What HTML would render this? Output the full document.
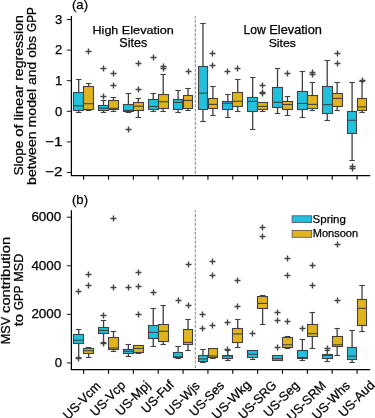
<!DOCTYPE html>
<html><head><meta charset="utf-8"><style>
html,body{margin:0;padding:0;background:#fff;width:375px;height:418px;overflow:hidden}
svg{display:block;will-change:transform}
text{font-family:"Liberation Sans",sans-serif;fill:#000;stroke:#000;stroke-width:0.25px}
</style></head><body>
<svg width="375" height="418" viewBox="0 0 375 418">
<rect width="375" height="418" fill="#fff"/>
<g stroke="#777" stroke-width="0.9" stroke-dasharray="3.1,1.34" stroke-dashoffset="0.74">
<line x1="195.3" y1="16.1" x2="195.3" y2="175.5"/>
<line x1="195.3" y1="210.3" x2="195.3" y2="369.6"/>
</g>
<g stroke="#424242" stroke-width="1.1" fill="none">
<path d="M78.68 79.5V92.5" stroke-width="1.3" stroke="#3f3f3f"/><path d="M75.93 79.5H81.43"/><path d="M78.68 110.5V112.5" stroke-width="1.3" stroke="#3f3f3f"/><path d="M75.93 112.5H81.43"/><rect x="73.5" y="92.5" width="10" height="18" fill="#21c0dd"/><path d="M73.5 105.8H83.5"/>
<path d="M88.62 83.5V86.5" stroke-width="1.3" stroke="#3f3f3f"/><path d="M85.87 83.5H91.37"/><path d="M88.62 109.5V110.5" stroke-width="1.3" stroke="#3f3f3f"/><path d="M85.87 110.5H91.37"/><rect x="83.5" y="86.5" width="10" height="23" fill="#e0b31f"/><path d="M83.5 103.7H93.5"/><path d="M85.5 51.5h6M88.5 48.5v6" stroke="#444444" stroke-width="1.4"/>
<path d="M103.54 100.5V105.5" stroke-width="1.3" stroke="#3f3f3f"/><path d="M100.79 100.5H106.29"/><path d="M103.54 110.5V112.5" stroke-width="1.3" stroke="#3f3f3f"/><path d="M100.79 112.5H106.29"/><rect x="98.5" y="105.5" width="10" height="5" fill="#21c0dd"/><path d="M98.5 108.2H108.5"/><path d="M100.5 96.5h6M103.5 93.5v6" stroke="#444444" stroke-width="1.4"/><path d="M100.5 68.5h6M103.5 65.5v6" stroke="#444444" stroke-width="1.4"/>
<path d="M113.48 97.5V100.5" stroke-width="1.3" stroke="#3f3f3f"/><path d="M110.73 97.5H116.23"/><path d="M113.48 109.5V111.5" stroke-width="1.3" stroke="#3f3f3f"/><path d="M110.73 111.5H116.23"/><rect x="108.5" y="100.5" width="10" height="9" fill="#e0b31f"/><path d="M108.5 108.3H118.5"/><path d="M110.5 73.5h6M113.5 70.5v6" stroke="#444444" stroke-width="1.4"/><path d="M110.5 85.5h6M113.5 82.5v6" stroke="#444444" stroke-width="1.4"/>
<path d="M128.39 93.5V104.5" stroke-width="1.3" stroke="#3f3f3f"/><path d="M125.64 93.5H131.14"/><path d="M128.39 111.5V112.5" stroke-width="1.3" stroke="#3f3f3f"/><path d="M125.64 112.5H131.14"/><rect x="123.5" y="104.5" width="10" height="7" fill="#21c0dd"/><path d="M123.5 110.4H133.5"/><path d="M125.5 129.5h6M128.5 126.5v6" stroke="#444444" stroke-width="1.4"/>
<path d="M138.33 98.5V102.5" stroke-width="1.3" stroke="#3f3f3f"/><path d="M135.58 98.5H141.08"/><path d="M138.33 110.5V117.5" stroke-width="1.3" stroke="#3f3f3f"/><path d="M135.58 117.5H141.08"/><rect x="133.5" y="102.5" width="10" height="8" fill="#e0b31f"/><path d="M133.5 106.2H143.5"/><path d="M135.5 63.5h6M138.5 60.5v6" stroke="#444444" stroke-width="1.4"/><path d="M135.5 89.5h6M138.5 86.5v6" stroke="#444444" stroke-width="1.4"/>
<path d="M153.25 93.5V99.5" stroke-width="1.3" stroke="#3f3f3f"/><path d="M150.5 93.5H156"/><path d="M153.25 109.5V111.5" stroke-width="1.3" stroke="#3f3f3f"/><path d="M150.5 111.5H156"/><rect x="148.5" y="99.5" width="10" height="10" fill="#21c0dd"/><path d="M148.5 106.5H158.5"/><path d="M150.5 57.5h6M153.5 54.5v6" stroke="#444444" stroke-width="1.4"/>
<path d="M163.19 74.5V94.5" stroke-width="1.3" stroke="#3f3f3f"/><path d="M160.44 74.5H165.94"/><path d="M163.19 108.5V111.5" stroke-width="1.3" stroke="#3f3f3f"/><path d="M160.44 111.5H165.94"/><rect x="158.5" y="94.5" width="10" height="14" fill="#e0b31f"/><path d="M158.5 101.7H168.5"/><path d="M160.5 66.5h6M163.5 63.5v6" stroke="#444444" stroke-width="1.4"/><path d="M160.5 68.5h6M163.5 65.5v6" stroke="#444444" stroke-width="1.4"/>
<path d="M178.1 90.5V99.5" stroke-width="1.3" stroke="#3f3f3f"/><path d="M175.35 90.5H180.85"/><path d="M178.1 109.5V112.5" stroke-width="1.3" stroke="#3f3f3f"/><path d="M175.35 112.5H180.85"/><rect x="173.5" y="99.5" width="9" height="10" fill="#21c0dd"/><path d="M173.5 102.4H182.5"/>
<path d="M188.04 88.5V95.5" stroke-width="1.3" stroke="#3f3f3f"/><path d="M185.29 88.5H190.79"/><path d="M188.04 108.5V110.5" stroke-width="1.3" stroke="#3f3f3f"/><path d="M185.29 110.5H190.79"/><rect x="183.5" y="95.5" width="9" height="13" fill="#e0b31f"/><path d="M183.5 100.4H192.5"/><path d="M185.5 71.5h6M188.5 68.5v6" stroke="#444444" stroke-width="1.4"/>
<path d="M202.96 23.5V66.5" stroke-width="1.3" stroke="#3f3f3f"/><path d="M200.21 23.5H205.71"/><path d="M202.96 109.5V121.5" stroke-width="1.3" stroke="#3f3f3f"/><path d="M200.21 121.5H205.71"/><rect x="198.5" y="66.5" width="9" height="43" fill="#21c0dd"/><path d="M198.5 93.2H207.5"/>
<path d="M212.9 86.5V98.5" stroke-width="1.3" stroke="#3f3f3f"/><path d="M210.15 86.5H215.65"/><path d="M212.9 108.5V115.5" stroke-width="1.3" stroke="#3f3f3f"/><path d="M210.15 115.5H215.65"/><rect x="208.5" y="98.5" width="9" height="10" fill="#e0b31f"/><path d="M208.5 104.4H217.5"/><path d="M209.5 53.5h6M212.5 50.5v6" stroke="#444444" stroke-width="1.4"/><path d="M209.5 65.5h6M212.5 62.5v6" stroke="#444444" stroke-width="1.4"/>
<path d="M227.81 94.5V101.5" stroke-width="1.3" stroke="#3f3f3f"/><path d="M225.06 94.5H230.56"/><path d="M227.81 109.5V117.5" stroke-width="1.3" stroke="#3f3f3f"/><path d="M225.06 117.5H230.56"/><rect x="222.5" y="101.5" width="10" height="8" fill="#21c0dd"/><path d="M222.5 103.2H232.5"/><path d="M224.5 71.5h6M227.5 68.5v6" stroke="#444444" stroke-width="1.4"/>
<path d="M237.75 79.5V92.5" stroke-width="1.3" stroke="#3f3f3f"/><path d="M235 79.5H240.5"/><path d="M237.75 106.5V111.5" stroke-width="1.3" stroke="#3f3f3f"/><path d="M235 111.5H240.5"/><rect x="232.5" y="92.5" width="10" height="14" fill="#e0b31f"/><path d="M232.5 101.3H242.5"/><path d="M234.5 68.5h6M237.5 65.5v6" stroke="#444444" stroke-width="1.4"/>
<path d="M252.66 77.5V97.5" stroke-width="1.3" stroke="#3f3f3f"/><path d="M249.91 77.5H255.41"/><path d="M252.66 111.5V129.5" stroke-width="1.3" stroke="#3f3f3f"/><path d="M249.91 129.5H255.41"/><rect x="247.5" y="97.5" width="10" height="14" fill="#21c0dd"/><path d="M247.5 101.3H257.5"/>
<path d="M262.61 109.5V111.5" stroke-width="1.3" stroke="#3f3f3f"/><path d="M259.86 111.5H265.36"/><rect x="257.5" y="102.5" width="10" height="7" fill="#e0b31f"/><path d="M257.5 106.4H267.5"/><path d="M259.5 85.5h6M262.5 82.5v6" stroke="#444444" stroke-width="1.4"/><path d="M259.5 92.5h6M262.5 89.5v6" stroke="#444444" stroke-width="1.4"/><path d="M259.5 93.5h6M262.5 90.5v6" stroke="#444444" stroke-width="1.4"/>
<path d="M277.52 68.5V87.5" stroke-width="1.3" stroke="#3f3f3f"/><path d="M274.77 68.5H280.27"/><path d="M277.52 107.5V113.5" stroke-width="1.3" stroke="#3f3f3f"/><path d="M274.77 113.5H280.27"/><rect x="272.5" y="87.5" width="10" height="20" fill="#21c0dd"/><path d="M272.5 102.3H282.5"/>
<path d="M287.46 96.5V101.5" stroke-width="1.3" stroke="#3f3f3f"/><path d="M284.71 96.5H290.21"/><path d="M287.46 109.5V115.5" stroke-width="1.3" stroke="#3f3f3f"/><path d="M284.71 115.5H290.21"/><rect x="282.5" y="101.5" width="10" height="8" fill="#e0b31f"/><path d="M282.5 104.5H292.5"/><path d="M284.5 73.5h6M287.5 70.5v6" stroke="#444444" stroke-width="1.4"/>
<path d="M302.38 71.5V91.5" stroke-width="1.3" stroke="#3f3f3f"/><path d="M299.62 71.5H305.12"/><path d="M302.38 109.5V117.5" stroke-width="1.3" stroke="#3f3f3f"/><path d="M299.62 117.5H305.12"/><rect x="297.5" y="91.5" width="10" height="18" fill="#21c0dd"/><path d="M297.5 103.5H307.5"/>
<path d="M312.32 82.5V95.5" stroke-width="1.3" stroke="#3f3f3f"/><path d="M309.57 82.5H315.07"/><path d="M312.32 108.5V110.5" stroke-width="1.3" stroke="#3f3f3f"/><path d="M309.57 110.5H315.07"/><rect x="307.5" y="95.5" width="10" height="13" fill="#e0b31f"/><path d="M307.5 104.4H317.5"/><path d="M309.5 72.5h6M312.5 69.5v6" stroke="#444444" stroke-width="1.4"/><path d="M309.5 74.5h6M312.5 71.5v6" stroke="#444444" stroke-width="1.4"/>
<path d="M327.23 60.5V86.5" stroke-width="1.3" stroke="#3f3f3f"/><path d="M324.48 60.5H329.98"/><path d="M327.23 113.5V120.5" stroke-width="1.3" stroke="#3f3f3f"/><path d="M324.48 120.5H329.98"/><rect x="322.5" y="86.5" width="10" height="27" fill="#21c0dd"/><path d="M322.5 104.7H332.5"/>
<path d="M337.17 82.5V93.5" stroke-width="1.3" stroke="#3f3f3f"/><path d="M334.42 82.5H339.92"/><path d="M337.17 106.5V110.5" stroke-width="1.3" stroke="#3f3f3f"/><path d="M334.42 110.5H339.92"/><rect x="332.5" y="93.5" width="10" height="13" fill="#e0b31f"/><path d="M332.5 98.4H342.5"/><path d="M334.5 53.5h6M337.5 50.5v6" stroke="#444444" stroke-width="1.4"/><path d="M334.5 63.5h6M337.5 60.5v6" stroke="#444444" stroke-width="1.4"/>
<path d="M352.09 82.5V111.5" stroke-width="1.3" stroke="#3f3f3f"/><path d="M349.34 82.5H354.84"/><path d="M352.09 133.5V160.5" stroke-width="1.3" stroke="#3f3f3f"/><path d="M349.34 160.5H354.84"/><rect x="347.5" y="111.5" width="9" height="22" fill="#21c0dd"/><path d="M347.5 120.3H356.5"/><path d="M349.5 166.5h6M352.5 163.5v6" stroke="#444444" stroke-width="1.4"/><path d="M349.5 168.5h6M352.5 165.5v6" stroke="#444444" stroke-width="1.4"/>
<path d="M362.03 81.5V98.5" stroke-width="1.3" stroke="#3f3f3f"/><path d="M359.28 81.5H364.78"/><path d="M362.03 110.5V112.5" stroke-width="1.3" stroke="#3f3f3f"/><path d="M359.28 112.5H364.78"/><rect x="357.5" y="98.5" width="9" height="12" fill="#e0b31f"/><path d="M357.5 106.9H366.5"/><path d="M359.5 80.5h6M362.5 77.5v6" stroke="#444444" stroke-width="1.4"/>
<path d="M78.68 329.5V334.5" stroke-width="1.3" stroke="#3f3f3f"/><path d="M75.93 329.5H81.43"/><path d="M78.68 343.5V357.5" stroke-width="1.3" stroke="#3f3f3f"/><path d="M75.93 357.5H81.43"/><rect x="73.5" y="334.5" width="10" height="9" fill="#21c0dd"/><path d="M73.5 340.2H83.5"/><path d="M75.5 358.5h6M78.5 355.5v6" stroke="#444444" stroke-width="1.4"/><path d="M75.5 291.5h6M78.5 288.5v6" stroke="#444444" stroke-width="1.4"/>
<path d="M88.62 347.5V348.5" stroke-width="1.3" stroke="#3f3f3f"/><path d="M85.87 347.5H91.37"/><path d="M88.62 353.5V357.5" stroke-width="1.3" stroke="#3f3f3f"/><path d="M85.87 357.5H91.37"/><rect x="83.5" y="348.5" width="10" height="5" fill="#e0b31f"/><path d="M83.5 350.7H93.5"/><path d="M85.5 274.5h6M88.5 271.5v6" stroke="#444444" stroke-width="1.4"/><path d="M85.5 285.5h6M88.5 282.5v6" stroke="#444444" stroke-width="1.4"/>
<path d="M103.54 320.5V327.5" stroke-width="1.3" stroke="#3f3f3f"/><path d="M100.79 320.5H106.29"/><path d="M103.54 333.5V342.5" stroke-width="1.3" stroke="#3f3f3f"/><path d="M100.79 342.5H106.29"/><rect x="98.5" y="327.5" width="10" height="6" fill="#21c0dd"/><path d="M98.5 330.4H108.5"/><path d="M100.5 315.5h6M103.5 312.5v6" stroke="#444444" stroke-width="1.4"/><path d="M100.5 343.5h6M103.5 340.5v6" stroke="#444444" stroke-width="1.4"/>
<path d="M113.48 331.5V337.5" stroke-width="1.3" stroke="#3f3f3f"/><path d="M110.73 331.5H116.23"/><path d="M113.48 349.5V351.5" stroke-width="1.3" stroke="#3f3f3f"/><path d="M110.73 351.5H116.23"/><rect x="108.5" y="337.5" width="10" height="12" fill="#e0b31f"/><path d="M108.5 348H118.5"/><path d="M110.5 218.5h6M113.5 215.5v6" stroke="#444444" stroke-width="1.4"/><path d="M110.5 287.5h6M113.5 284.5v6" stroke="#444444" stroke-width="1.4"/>
<path d="M128.39 344.5V349.5" stroke-width="1.3" stroke="#3f3f3f"/><path d="M125.64 344.5H131.14"/><path d="M128.39 353.5V356.5" stroke-width="1.3" stroke="#3f3f3f"/><path d="M125.64 356.5H131.14"/><rect x="123.5" y="349.5" width="10" height="4" fill="#21c0dd"/><path d="M123.5 351.3H133.5"/><path d="M125.5 287.5h6M128.5 284.5v6" stroke="#444444" stroke-width="1.4"/>
<path d="M138.33 352.5V353.5" stroke-width="1.3" stroke="#3f3f3f"/><path d="M135.58 353.5H141.08"/><rect x="133.5" y="345.5" width="10" height="7" fill="#e0b31f"/><path d="M133.5 348.4H143.5"/><path d="M135.5 272.5h6M138.5 269.5v6" stroke="#444444" stroke-width="1.4"/><path d="M135.5 286.5h6M138.5 283.5v6" stroke="#444444" stroke-width="1.4"/><path d="M135.5 314.5h6M138.5 311.5v6" stroke="#444444" stroke-width="1.4"/>
<path d="M153.25 308.5V325.5" stroke-width="1.3" stroke="#3f3f3f"/><path d="M150.5 308.5H156"/><path d="M153.25 338.5V346.5" stroke-width="1.3" stroke="#3f3f3f"/><path d="M150.5 346.5H156"/><rect x="148.5" y="325.5" width="10" height="13" fill="#21c0dd"/><path d="M148.5 332.4H158.5"/><path d="M150.5 292.5h6M153.5 289.5v6" stroke="#444444" stroke-width="1.4"/>
<path d="M163.19 305.5V324.5" stroke-width="1.3" stroke="#3f3f3f"/><path d="M160.44 305.5H165.94"/><path d="M163.19 341.5V344.5" stroke-width="1.3" stroke="#3f3f3f"/><path d="M160.44 344.5H165.94"/><rect x="158.5" y="324.5" width="10" height="17" fill="#e0b31f"/><path d="M158.5 331.3H168.5"/>
<path d="M178.1 346.5V352.5" stroke-width="1.3" stroke="#3f3f3f"/><path d="M175.35 346.5H180.85"/><path d="M178.1 357.5V358.5" stroke-width="1.3" stroke="#3f3f3f"/><path d="M175.35 358.5H180.85"/><rect x="173.5" y="352.5" width="9" height="5" fill="#21c0dd"/><path d="M173.5 356.8H182.5"/><path d="M175.5 300.5h6M178.5 297.5v6" stroke="#444444" stroke-width="1.4"/>
<path d="M188.04 319.5V329.5" stroke-width="1.3" stroke="#3f3f3f"/><path d="M185.29 319.5H190.79"/><path d="M188.04 344.5V350.5" stroke-width="1.3" stroke="#3f3f3f"/><path d="M185.29 350.5H190.79"/><rect x="183.5" y="329.5" width="9" height="15" fill="#e0b31f"/><path d="M183.5 342.4H192.5"/><path d="M185.5 264.5h6M188.5 261.5v6" stroke="#444444" stroke-width="1.4"/><path d="M185.5 305.5h6M188.5 302.5v6" stroke="#444444" stroke-width="1.4"/>
<path d="M202.96 349.5V355.5" stroke-width="1.3" stroke="#3f3f3f"/><path d="M200.21 349.5H205.71"/><path d="M202.96 361.5V362.5" stroke-width="1.3" stroke="#3f3f3f"/><path d="M200.21 362.5H205.71"/><rect x="198.5" y="355.5" width="9" height="6" fill="#21c0dd"/><path d="M198.5 358.9H207.5"/><path d="M199.5 314.5h6M202.5 311.5v6" stroke="#444444" stroke-width="1.4"/><path d="M199.5 328.5h6M202.5 325.5v6" stroke="#444444" stroke-width="1.4"/>
<path d="M212.9 357.5V358.5" stroke-width="1.3" stroke="#3f3f3f"/><path d="M210.15 358.5H215.65"/><rect x="208.5" y="348.5" width="9" height="9" fill="#e0b31f"/><path d="M208.5 356H217.5"/><path d="M209.5 325.5h6M212.5 322.5v6" stroke="#444444" stroke-width="1.4"/><path d="M209.5 261.5h6M212.5 258.5v6" stroke="#444444" stroke-width="1.4"/><path d="M209.5 275.5h6M212.5 272.5v6" stroke="#444444" stroke-width="1.4"/>
<path d="M227.81 350.5V355.5" stroke-width="1.3" stroke="#3f3f3f"/><path d="M225.06 350.5H230.56"/><path d="M227.81 358.5V360.5" stroke-width="1.3" stroke="#3f3f3f"/><path d="M225.06 360.5H230.56"/><rect x="222.5" y="355.5" width="10" height="3" fill="#21c0dd"/><path d="M222.5 356H232.5"/><path d="M224.5 322.5h6M227.5 319.5v6" stroke="#444444" stroke-width="1.4"/><path d="M224.5 349.5h6M227.5 346.5v6" stroke="#444444" stroke-width="1.4"/>
<path d="M237.75 319.5V328.5" stroke-width="1.3" stroke="#3f3f3f"/><path d="M235 319.5H240.5"/><path d="M237.75 342.5V347.5" stroke-width="1.3" stroke="#3f3f3f"/><path d="M235 347.5H240.5"/><rect x="232.5" y="328.5" width="10" height="14" fill="#e0b31f"/><path d="M232.5 333.9H242.5"/><path d="M234.5 280.5h6M237.5 277.5v6" stroke="#444444" stroke-width="1.4"/><path d="M234.5 306.5h6M237.5 303.5v6" stroke="#444444" stroke-width="1.4"/>
<path d="M252.66 357.5V359.5" stroke-width="1.3" stroke="#3f3f3f"/><path d="M249.91 359.5H255.41"/><rect x="247.5" y="350.5" width="10" height="7" fill="#21c0dd"/><path d="M247.5 354.2H257.5"/><path d="M249.5 333.5h6M252.5 330.5v6" stroke="#444444" stroke-width="1.4"/>
<path d="M262.61 295.5V296.5" stroke-width="1.3" stroke="#3f3f3f"/><path d="M259.86 295.5H265.36"/><path d="M262.61 308.5V324.5" stroke-width="1.3" stroke="#3f3f3f"/><path d="M259.86 324.5H265.36"/><rect x="257.5" y="296.5" width="10" height="12" fill="#e0b31f"/><path d="M257.5 303.4H267.5"/><path d="M259.5 227.5h6M262.5 224.5v6" stroke="#444444" stroke-width="1.4"/><path d="M259.5 236.5h6M262.5 233.5v6" stroke="#444444" stroke-width="1.4"/>
<rect x="272.5" y="355.5" width="10" height="5" fill="#21c0dd"/><path d="M272.5 358.6H282.5"/><path d="M274.5 312.5h6M277.5 309.5v6" stroke="#444444" stroke-width="1.4"/><path d="M274.5 320.5h6M277.5 317.5v6" stroke="#444444" stroke-width="1.4"/><path d="M274.5 347.5h6M277.5 344.5v6" stroke="#444444" stroke-width="1.4"/>
<path d="M287.46 336.5V337.5" stroke-width="1.3" stroke="#3f3f3f"/><path d="M284.71 336.5H290.21"/><path d="M287.46 347.5V348.5" stroke-width="1.3" stroke="#3f3f3f"/><path d="M284.71 348.5H290.21"/><rect x="282.5" y="337.5" width="10" height="10" fill="#e0b31f"/><path d="M282.5 344.8H292.5"/><path d="M284.5 258.5h6M287.5 255.5v6" stroke="#444444" stroke-width="1.4"/><path d="M284.5 275.5h6M287.5 272.5v6" stroke="#444444" stroke-width="1.4"/><path d="M284.5 321.5h6M287.5 318.5v6" stroke="#444444" stroke-width="1.4"/>
<path d="M302.38 339.5V350.5" stroke-width="1.3" stroke="#3f3f3f"/><path d="M299.62 339.5H305.12"/><path d="M302.38 358.5V360.5" stroke-width="1.3" stroke="#3f3f3f"/><path d="M299.62 360.5H305.12"/><rect x="297.5" y="350.5" width="10" height="8" fill="#21c0dd"/><path d="M297.5 357.6H307.5"/><path d="M299.5 328.5h6M302.5 325.5v6" stroke="#444444" stroke-width="1.4"/>
<path d="M312.32 312.5V324.5" stroke-width="1.3" stroke="#3f3f3f"/><path d="M309.57 312.5H315.07"/><path d="M312.32 336.5V348.5" stroke-width="1.3" stroke="#3f3f3f"/><path d="M309.57 348.5H315.07"/><rect x="307.5" y="324.5" width="10" height="12" fill="#e0b31f"/><path d="M307.5 333.6H317.5"/><path d="M309.5 265.5h6M312.5 262.5v6" stroke="#444444" stroke-width="1.4"/><path d="M309.5 285.5h6M312.5 282.5v6" stroke="#444444" stroke-width="1.4"/>
<path d="M327.23 350.5V354.5" stroke-width="1.3" stroke="#3f3f3f"/><path d="M324.48 350.5H329.98"/><path d="M327.23 358.5V361.5" stroke-width="1.3" stroke="#3f3f3f"/><path d="M324.48 361.5H329.98"/><rect x="322.5" y="354.5" width="10" height="4" fill="#21c0dd"/><path d="M322.5 355.4H332.5"/><path d="M324.5 348.5h6M327.5 345.5v6" stroke="#444444" stroke-width="1.4"/>
<path d="M337.17 328.5V336.5" stroke-width="1.3" stroke="#3f3f3f"/><path d="M334.42 328.5H339.92"/><path d="M337.17 346.5V355.5" stroke-width="1.3" stroke="#3f3f3f"/><path d="M334.42 355.5H339.92"/><rect x="332.5" y="336.5" width="10" height="10" fill="#e0b31f"/><path d="M332.5 344.8H342.5"/><path d="M334.5 244.5h6M337.5 241.5v6" stroke="#444444" stroke-width="1.4"/><path d="M334.5 300.5h6M337.5 297.5v6" stroke="#444444" stroke-width="1.4"/>
<path d="M352.09 330.5V347.5" stroke-width="1.3" stroke="#3f3f3f"/><path d="M349.34 330.5H354.84"/><path d="M352.09 359.5V362.5" stroke-width="1.3" stroke="#3f3f3f"/><path d="M349.34 362.5H354.84"/><rect x="347.5" y="347.5" width="9" height="12" fill="#21c0dd"/><path d="M347.5 356.1H356.5"/>
<path d="M362.03 285.5V299.5" stroke-width="1.3" stroke="#3f3f3f"/><path d="M359.28 285.5H364.78"/><path d="M362.03 325.5V331.5" stroke-width="1.3" stroke="#3f3f3f"/><path d="M359.28 331.5H364.78"/><rect x="357.5" y="299.5" width="9" height="26" fill="#e0b31f"/><path d="M357.5 308.3H366.5"/>
</g>
<g stroke="#424242" stroke-width="1.1">
</g>
<g stroke="#000" stroke-width="1.25" fill="none">
<path d="M71.4 16.1V175.5H370.2"/>
<path d="M71.4 210.3V369.6H370.2"/>
<line x1="83.65" y1="175.5" x2="83.65" y2="179.7" stroke-width="1.1"/><line x1="83.65" y1="369.6" x2="83.65" y2="373.8" stroke-width="1.1"/><line x1="108.51" y1="175.5" x2="108.51" y2="179.7" stroke-width="1.1"/><line x1="108.51" y1="369.6" x2="108.51" y2="373.8" stroke-width="1.1"/><line x1="133.36" y1="175.5" x2="133.36" y2="179.7" stroke-width="1.1"/><line x1="133.36" y1="369.6" x2="133.36" y2="373.8" stroke-width="1.1"/><line x1="158.22" y1="175.5" x2="158.22" y2="179.7" stroke-width="1.1"/><line x1="158.22" y1="369.6" x2="158.22" y2="373.8" stroke-width="1.1"/><line x1="183.07" y1="175.5" x2="183.07" y2="179.7" stroke-width="1.1"/><line x1="183.07" y1="369.6" x2="183.07" y2="373.8" stroke-width="1.1"/><line x1="207.93" y1="175.5" x2="207.93" y2="179.7" stroke-width="1.1"/><line x1="207.93" y1="369.6" x2="207.93" y2="373.8" stroke-width="1.1"/><line x1="232.78" y1="175.5" x2="232.78" y2="179.7" stroke-width="1.1"/><line x1="232.78" y1="369.6" x2="232.78" y2="373.8" stroke-width="1.1"/><line x1="257.63" y1="175.5" x2="257.63" y2="179.7" stroke-width="1.1"/><line x1="257.63" y1="369.6" x2="257.63" y2="373.8" stroke-width="1.1"/><line x1="282.49" y1="175.5" x2="282.49" y2="179.7" stroke-width="1.1"/><line x1="282.49" y1="369.6" x2="282.49" y2="373.8" stroke-width="1.1"/><line x1="307.35" y1="175.5" x2="307.35" y2="179.7" stroke-width="1.1"/><line x1="307.35" y1="369.6" x2="307.35" y2="373.8" stroke-width="1.1"/><line x1="332.2" y1="175.5" x2="332.2" y2="179.7" stroke-width="1.1"/><line x1="332.2" y1="369.6" x2="332.2" y2="373.8" stroke-width="1.1"/><line x1="357.06" y1="175.5" x2="357.06" y2="179.7" stroke-width="1.1"/><line x1="357.06" y1="369.6" x2="357.06" y2="373.8" stroke-width="1.1"/><line x1="66.8" y1="172.5" x2="71" y2="172.5" stroke-width="0.9"/><line x1="66.8" y1="141.9" x2="71" y2="141.9" stroke-width="0.9"/><line x1="66.8" y1="111.3" x2="71" y2="111.3" stroke-width="0.9"/><line x1="66.8" y1="80.7" x2="71" y2="80.7" stroke-width="0.9"/><line x1="66.8" y1="50.1" x2="71" y2="50.1" stroke-width="0.9"/><line x1="66.8" y1="19.5" x2="71" y2="19.5" stroke-width="0.9"/><line x1="66.8" y1="362.9" x2="71" y2="362.9" stroke-width="0.9"/><line x1="66.8" y1="314.33" x2="71" y2="314.33" stroke-width="0.9"/><line x1="66.8" y1="265.76" x2="71" y2="265.76" stroke-width="0.9"/><line x1="66.8" y1="217.19" x2="71" y2="217.19" stroke-width="0.9"/>
</g>
<g font-size="12.8">
<text transform="translate(84.88,403.54) rotate(-45)" text-anchor="middle" textLength="47" lengthAdjust="spacingAndGlyphs">US-Vcm</text><text transform="translate(110.86,401.46) rotate(-45)" text-anchor="middle" textLength="43.64" lengthAdjust="spacingAndGlyphs">US-Vcp</text><text transform="translate(135.84,401.28) rotate(-45)" text-anchor="middle" textLength="42.76" lengthAdjust="spacingAndGlyphs">US-Mpj</text><text transform="translate(160.64,399.74) rotate(-45)" text-anchor="middle" textLength="40.13" lengthAdjust="spacingAndGlyphs">US-Fuf</text><text transform="translate(185.43,401.66) rotate(-45)" text-anchor="middle" textLength="42.8" lengthAdjust="spacingAndGlyphs">US-Wjs</text><text transform="translate(209.78,401.68) rotate(-45)" text-anchor="middle" textLength="43.05" lengthAdjust="spacingAndGlyphs">US-Ses</text><text transform="translate(234.34,402.78) rotate(-45)" text-anchor="middle" textLength="48.77" lengthAdjust="spacingAndGlyphs">US-Wkg</text><text transform="translate(260.44,402.92) rotate(-45)" text-anchor="middle" textLength="47.9" lengthAdjust="spacingAndGlyphs">US-SRG</text><text transform="translate(284.25,402.02) rotate(-45)" text-anchor="middle" textLength="44.17" lengthAdjust="spacingAndGlyphs">US-Seg</text><text transform="translate(309.48,403.8) rotate(-45)" text-anchor="middle" textLength="49.12" lengthAdjust="spacingAndGlyphs">US-SRM</text><text transform="translate(334.01,403.34) rotate(-45)" text-anchor="middle" textLength="47.71" lengthAdjust="spacingAndGlyphs">US-Whs</text><text transform="translate(359.56,401.82) rotate(-45)" text-anchor="middle" textLength="44.89" lengthAdjust="spacingAndGlyphs">US-Aud</text>
</g>
<text x="72" y="8.9" text-anchor="start" font-size="13.4" textLength="16" lengthAdjust="spacingAndGlyphs">(a)</text>
<text x="72" y="203.9" text-anchor="start" font-size="13.4" textLength="16" lengthAdjust="spacingAndGlyphs">(b)</text>
<text x="62.3" y="23.8" text-anchor="end" font-size="12.6" textLength="7.3" lengthAdjust="spacingAndGlyphs">3</text>
<text x="62.3" y="54.4" text-anchor="end" font-size="12.6" textLength="7.3" lengthAdjust="spacingAndGlyphs">2</text>
<text x="62.3" y="85" text-anchor="end" font-size="12.6" textLength="7.3" lengthAdjust="spacingAndGlyphs">1</text>
<text x="62.3" y="115.7" text-anchor="end" font-size="12.6" textLength="7.3" lengthAdjust="spacingAndGlyphs">0</text>
<text x="62.3" y="145.8" text-anchor="end" font-size="12.6" textLength="17.2" lengthAdjust="spacingAndGlyphs">−1</text>
<text x="62.3" y="176.1" text-anchor="end" font-size="12.6" textLength="17.2" lengthAdjust="spacingAndGlyphs">−2</text>
<text x="61.3" y="221.2" text-anchor="end" font-size="12.6" textLength="29.9" lengthAdjust="spacingAndGlyphs">6000</text>
<text x="61.3" y="269.6" text-anchor="end" font-size="12.6" textLength="29.9" lengthAdjust="spacingAndGlyphs">4000</text>
<text x="61.3" y="318.2" text-anchor="end" font-size="12.6" textLength="29.9" lengthAdjust="spacingAndGlyphs">2000</text>
<text x="62" y="367.2" text-anchor="end" font-size="12.6" textLength="7.3" lengthAdjust="spacingAndGlyphs">0</text>
<text transform="translate(22.8,175.62) rotate(-90)" font-size="13.3" textLength="34.98" lengthAdjust="spacingAndGlyphs">Slope</text>
<text transform="translate(22.8,136.63) rotate(-90)" font-size="13.3" textLength="12.15" lengthAdjust="spacingAndGlyphs">of</text>
<text transform="translate(22.8,120.48) rotate(-90)" font-size="13.3" textLength="35.66" lengthAdjust="spacingAndGlyphs">linear</text>
<text transform="translate(22.8,80.81) rotate(-90)" font-size="13.3" textLength="65.67" lengthAdjust="spacingAndGlyphs">regression</text>
<text transform="translate(36,184.91) rotate(-90)" font-size="13.06" textLength="53.54" lengthAdjust="spacingAndGlyphs">between</text>
<text transform="translate(36,127.44) rotate(-90)" font-size="13.06" textLength="38.55" lengthAdjust="spacingAndGlyphs">model</text>
<text transform="translate(36,84.95) rotate(-90)" font-size="13.06" textLength="23.29" lengthAdjust="spacingAndGlyphs">and</text>
<text transform="translate(36,57.72) rotate(-90)" font-size="13.06" textLength="21.88" lengthAdjust="spacingAndGlyphs">obs</text>
<text transform="translate(36,31.9) rotate(-90)" font-size="13.06" textLength="24.53" lengthAdjust="spacingAndGlyphs">GPP</text>
<text transform="translate(9.8,344.25) rotate(-90)" font-size="13.23" textLength="27.35" lengthAdjust="spacingAndGlyphs">MSV</text>
<text transform="translate(9.8,312.92) rotate(-90)" font-size="13.23" textLength="75.98" lengthAdjust="spacingAndGlyphs">contribution</text>
<text transform="translate(23.2,326.31) rotate(-90)" font-size="13.01" textLength="12.38" lengthAdjust="spacingAndGlyphs">to</text>
<text transform="translate(23.2,310.01) rotate(-90)" font-size="13.01" textLength="24.43" lengthAdjust="spacingAndGlyphs">GPP</text>
<text transform="translate(23.2,281.65) rotate(-90)" font-size="13.01" textLength="27.97" lengthAdjust="spacingAndGlyphs">MSD</text>
<text x="92.58" y="34.4" font-size="11.82" textLength="25.74" lengthAdjust="spacingAndGlyphs">High</text>
<text x="121.88" y="34.4" font-size="11.82" textLength="52.03" lengthAdjust="spacingAndGlyphs">Elevation</text>
<text x="119.26" y="46.7" font-size="12.09" textLength="27.97" lengthAdjust="spacingAndGlyphs">Sites</text>
<text x="243.47" y="34.4" font-size="11.94" textLength="22.29" lengthAdjust="spacingAndGlyphs">Low</text>
<text x="269.35" y="34.4" font-size="11.94" textLength="52.58" lengthAdjust="spacingAndGlyphs">Elevation</text>
<text x="268.67" y="46.7" font-size="11.77" textLength="27.24" lengthAdjust="spacingAndGlyphs">Sites</text>
<text x="312.63" y="222.7" font-size="10.86" textLength="33.22" lengthAdjust="spacingAndGlyphs">Spring</text>
<text x="312.69" y="237.3" font-size="10.68" textLength="45.44" lengthAdjust="spacingAndGlyphs">Monsoon</text>
<g stroke="#505050" stroke-width="0.8">
<rect x="292.1" y="215.8" width="19.6" height="6.8" fill="#21c0dd"/>
<rect x="292.1" y="230.5" width="19.6" height="6.8" fill="#e0b31f"/>
</g>
</svg>
</body></html>
